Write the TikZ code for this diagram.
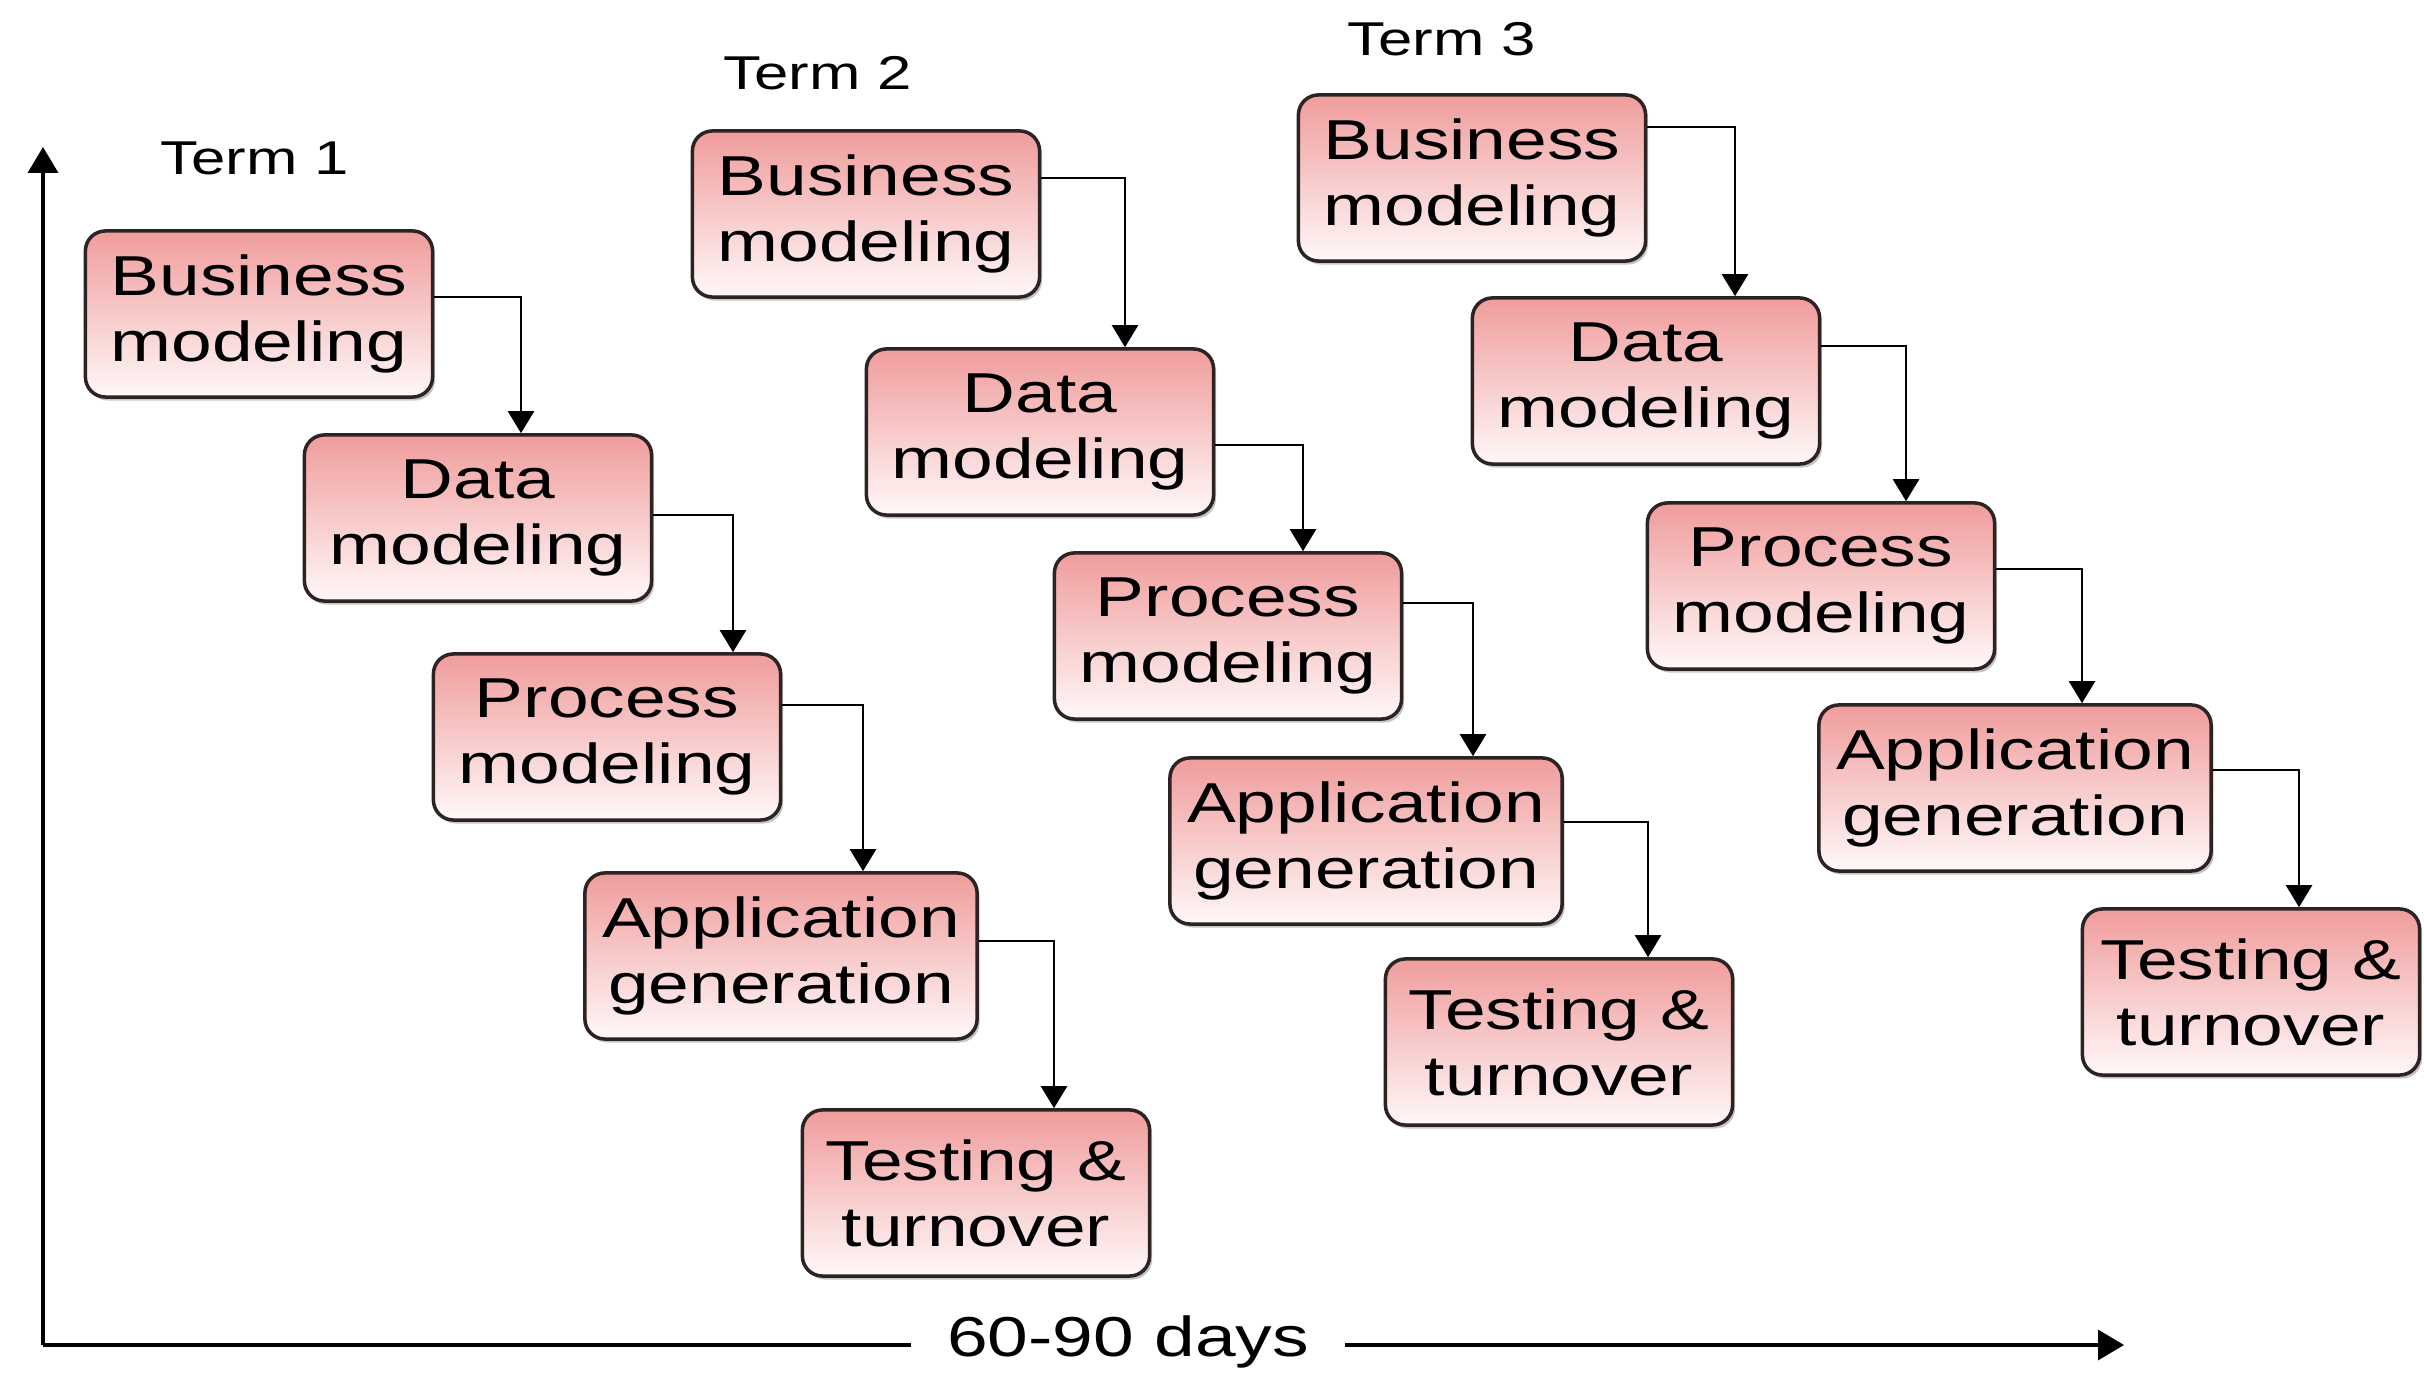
\documentclass[tikz,border=0pt]{standalone}
\usepackage{fontspec}
\setmainfont{Liberation Sans}[FakeStretch=1.3]
\usetikzlibrary{arrows.meta,shadows,calc}
\definecolor{boxtop}{RGB}{240,156,156}
\definecolor{boxbot}{RGB}{255,248,248}
\definecolor{edge}{RGB}{45,35,35}
\begin{document}
\begin{tikzpicture}[x=0.01cm,y=-0.01cm,
  stage/.style={draw=edge, line width=1pt, rounded corners=0.2cm,
    top color=boxtop, bottom color=boxbot,
    minimum width=3.47cm, minimum height=1.66cm, align=center, inner sep=0pt,
    font=\fontsize{16}{18.8}\selectfont,
    drop shadow={shadow xshift=0.025cm, shadow yshift=-0.035cm, opacity=0.45}},
  wide/.style={minimum width=3.92cm},
  conn/.style={line width=0.7pt, -{Triangle[width=0.26cm,length=0.22cm]}},
  axis/.style={line width=1pt},
  axisarrow/.style={line width=1pt, -{Triangle[width=0.3cm,length=0.26cm]}},
  term/.style={font=\fontsize{13.5}{15}\selectfont}]
\fill[white] (0,0) rectangle (2424,1374);
\useasboundingbox (0,0) rectangle (2424,1374);

% Term labels
\node[term] (term1) at (255,158) {Term 1};
\node[term] (term2) at (818,73) {Term 2};
\node[term] (term3) at (1442,39) {Term 3};

% Term 1
\node[stage] (b1) at (259,314) {Business\\modeling};
\node[stage] (d1) at (478,518) {Data\\modeling};
\node[stage] (p1) at (607,737) {Process\\modeling};
\node[stage,wide] (a1) at (781,956) {Application\\generation};
\node[stage] (t1) at (976,1193) {Testing \&\\turnover};

% Term 2
\node[stage] (b2) at (866,214) {Business\\modeling};
\node[stage] (d2) at (1040,432) {Data\\modeling};
\node[stage] (p2) at (1228,636) {Process\\modeling};
\node[stage,wide] (a2) at (1366,841) {Application\\generation};
\node[stage] (t2) at (1559,1042) {Testing \&\\turnover};

% Term 3
\node[stage] (b3) at (1472,178) {Business\\modeling};
\node[stage] (d3) at (1646,381) {Data\\modeling};
\node[stage] (p3) at (1821,586) {Process\\modeling};
\node[stage,wide] (a3) at (2015,788) {Application\\generation};
\node[stage,minimum width=3.37cm] (t3) at (2251,992) {Testing \&\\turnover};

% Connectors term 1
\draw[conn] (b1.east |- 0,297) -| (521,0 |- d1.north);
\draw[conn] (d1.east |- 0,515) -| (733,0 |- p1.north);
\draw[conn] (p1.east |- 0,705) -| (863,0 |- a1.north);
\draw[conn] (a1.east |- 0,941) -| (1054,0 |- t1.north);
% Connectors term 2
\draw[conn] (b2.east |- 0,178) -| (1125,0 |- d2.north);
\draw[conn] (d2.east |- 0,445) -| (1303,0 |- p2.north);
\draw[conn] (p2.east |- 0,603) -| (1473,0 |- a2.north);
\draw[conn] (a2.east |- 0,822) -| (1648,0 |- t2.north);
% Connectors term 3
\draw[conn] (b3.east |- 0,127) -| (1735,0 |- d3.north);
\draw[conn] (d3.east |- 0,346) -| (1906,0 |- p3.north);
\draw[conn] (p3.east |- 0,569) -| (2082,0 |- a3.north);
\draw[conn] (a3.east |- 0,770) -| (2299,0 |- t3.north);

% Axes
\coordinate (o) at (43,1345);
\coordinate (ytop) at (43,147);
\coordinate (xend) at (2124,1345);
\node[font=\fontsize{16}{18}\selectfont, inner xsep=0.35cm, inner ysep=0pt] (days) at (1128,1342) {60-90 days};
\draw[axisarrow] (o) -- (ytop);
\draw[axis] (o) -- (o -| days.west);
\draw[axisarrow] (o -| days.east) -- (xend);
\end{tikzpicture}
\end{document}
